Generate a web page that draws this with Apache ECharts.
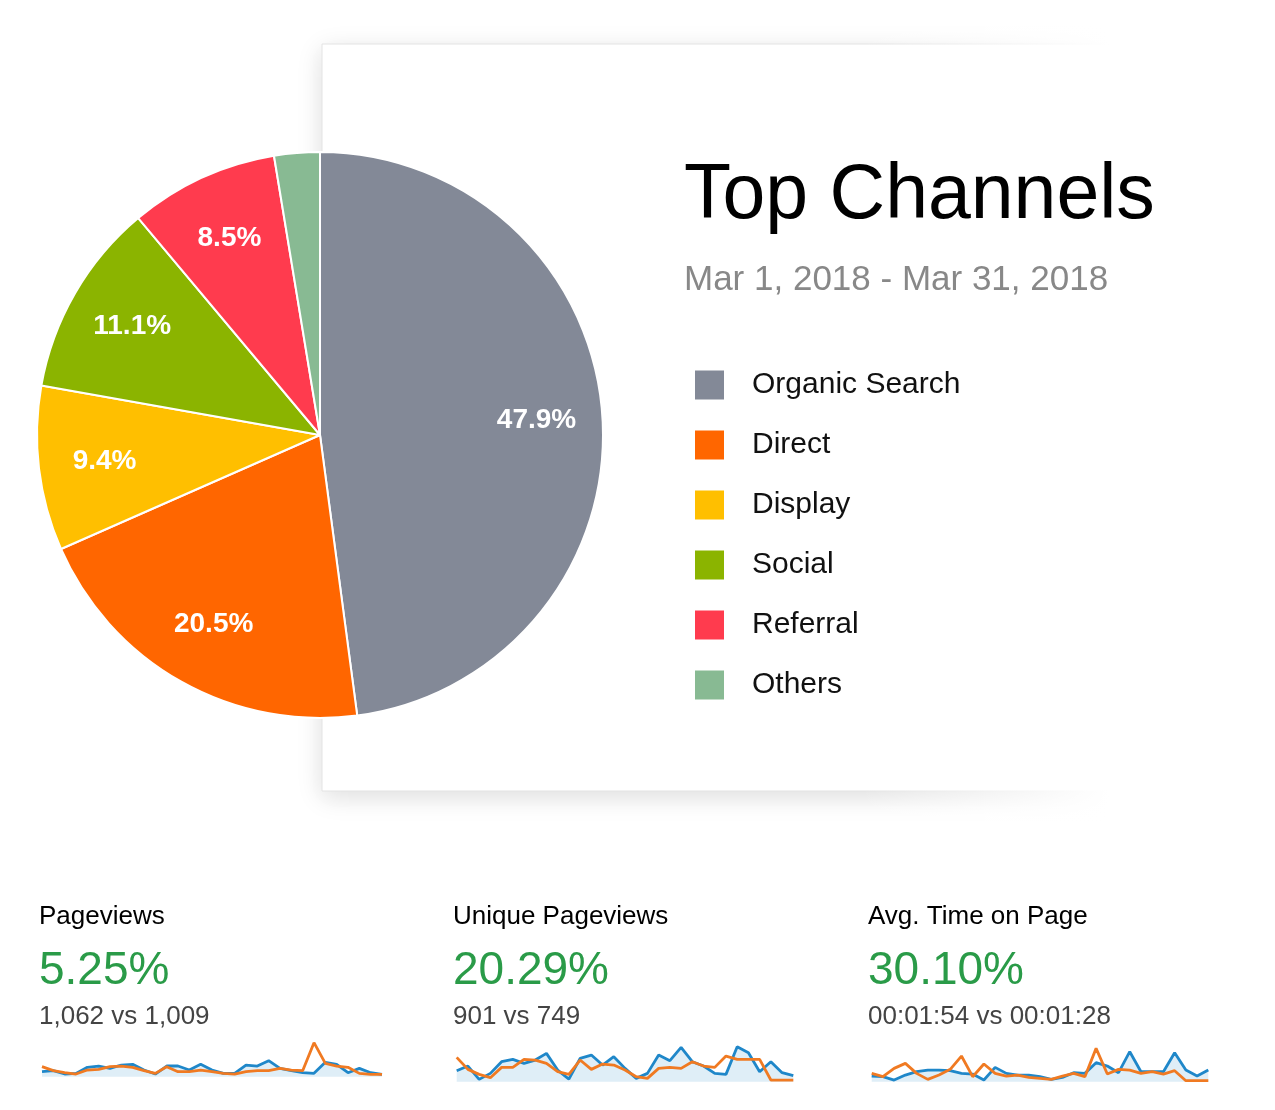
<!DOCTYPE html>
<html>
<head>
<meta charset="utf-8">
<script src="https://cdn.jsdelivr.net/npm/echarts@6/dist/echarts.min.js"></script>
<style>
html,body{margin:0;padding:0;background:#fff;}
#c{width:1275px;height:1110px;}
</style>
</head>
<body>
<div id="c"></div>
<script>
// ---- data ----
var channels = ['Organic Search', 'Direct', 'Display', 'Social', 'Referral', 'Others'];
var shares = [47.9, 20.5, 9.4, 11.1, 8.5, 2.6];
var channelColors = ['#838997', '#ff6600', '#ffbf00', '#8bb400', '#ff3b4e', '#88ba93'];

var titleText = 'Top Channels';
var dateRange = 'Mar 1, 2018 - Mar 31, 2018';

var kpiNames = ['Pageviews', 'Unique Pageviews', 'Avg. Time on Page'];
var kpiChanges = ['5.25%', '20.29%', '30.10%'];
var kpiCompare = ['1,062 vs 1,009', '901 vs 749', '00:01:54 vs 00:01:28'];

var days = [];
for (var d = 1; d <= 31; d++) days.push('Mar ' + d);

var pvCurrent = [15,18,8,10,28,32,25,35,37,20,8,32,32,20,37,20,10,10,35,32,48,25,18,12,10,43,37,12,25,12,7];
var pvPrevious = [30,18,12,8,20,22,30,32,28,18,10,30,15,15,20,15,10,8,15,18,18,25,20,18,102,40,32,28,10,7,7];
var upvCurrent = [33,47,7,25,60,67,55,65,85,35,8,70,80,50,75,40,10,25,80,63,103,60,47,25,22,105,87,30,60,27,18];
var upvPrevious = [73,37,22,12,43,43,67,65,55,30,22,65,37,53,50,35,15,10,40,43,40,60,47,43,77,67,67,67,5,5,5];
var atCurrent = [17,15,5,20,30,35,35,33,25,23,5,43,25,20,20,15,7,13,27,25,57,47,27,90,30,30,30,87,35,17,35];
var atPrevious = [25,15,40,55,25,7,20,37,77,15,53,25,17,20,13,10,7,17,25,15,100,23,37,35,25,30,23,33,3,3,3];

// ---- chart ----
var FONT = '"Liberation Sans", Arial, Helvetica, sans-serif';
var chart = echarts.init(document.getElementById('c'), null, {renderer: 'canvas'});

var pieData = channels.map(function (n, i) {
  return {name: n, value: shares[i], itemStyle: {color: channelColors[i]}};
});
var labelData = channels.map(function (n, i) {
  return {name: n, value: shares[i]};
});

var sparkSets = [[pvCurrent, pvPrevious], [upvCurrent, upvPrevious], [atCurrent, atPrevious]];
var gridDefs = [
  {left: 42, width: 340, top: 1040, height: 36.7, max: 110},
  {left: 456.7, width: 336.6, top: 1041.7, height: 40, max: 120},
  {left: 871.7, width: 336.6, top: 1041.7, height: 40, max: 120}
];
var kpiX = [39, 453, 868];

var grids = [], xAxes = [], yAxes = [], series = [];
series.push({
  type: 'pie', name: 'channels', center: [320, 435], radius: 283,
  startAngle: 90, clockwise: true, animation: false, silent: true,
  label: {show: false}, labelLine: {show: false},
  itemStyle: {borderColor: '#fff', borderWidth: 2},
  data: pieData, z: 3
});
series.push({
  type: 'pie', name: 'labels', center: [320, 435], radius: 428,
  startAngle: 90, clockwise: true, animation: false, silent: true,
  legendHoverLink: false,
  itemStyle: {color: 'rgba(0,0,0,0)', borderWidth: 0},
  label: {
    show: true, position: 'inside', color: '#fff', fontSize: 28, fontWeight: 'bold',
    fontFamily: FONT,
    formatter: function (p) { return p.name === 'Others' ? '' : p.value.toFixed(1) + '%'; }
  },
  labelLine: {show: false},
  data: labelData, z: 4
});

gridDefs.forEach(function (g, i) {
  grids.push({left: g.left, top: g.top, width: g.width, height: g.height, containLabel: false});
  xAxes.push({type: 'category', gridIndex: i, data: days, boundaryGap: false, show: false});
  yAxes.push({type: 'value', gridIndex: i, min: 0, max: g.max, show: false});
  series.push({
    type: 'line', xAxisIndex: i, yAxisIndex: i, data: sparkSets[i][0],
    symbol: 'none', animation: false, silent: true,
    lineStyle: {color: '#1f87c9', width: 2.8},
    areaStyle: {color: 'rgba(31,135,201,0.2)'}, z: 3
  });
  series.push({
    type: 'line', xAxisIndex: i, yAxisIndex: i, data: sparkSets[i][1],
    symbol: 'none', animation: false, silent: true,
    lineStyle: {color: '#f07a22', width: 2.8}, z: 4
  });
});

var graphics = [
  {type: 'rect', z: 0, shape: {x: 322, y: 44, width: 1100, height: 747},
   style: {fill: '#fff', shadowBlur: 24, shadowColor: 'rgba(0,0,0,0.13)', shadowOffsetY: 6, stroke: '#e4e4e4', lineWidth: 1}},
  {type: 'rect', z: 1, shape: {x: 860, y: 0, width: 415, height: 840},
   style: {fill: new echarts.graphic.LinearGradient(0, 0, 1, 0, [
     {offset: 0, color: 'rgba(255,255,255,0)'},
     {offset: 0.6, color: 'rgba(255,255,255,1)'},
     {offset: 1, color: 'rgba(255,255,255,1)'}])}},
  {type: 'rect', z: 1, shape: {x: 323, y: 45, width: 1000, height: 745}, style: {fill: '#fff'}},
  {type: 'text', z: 100, left: 684, top: 158,
   style: {text: titleText, fontSize: 77, fontFamily: FONT, fill: '#000', verticalAlign: 'top'}},
  {type: 'text', z: 100, left: 684, top: 263,
   style: {text: dateRange, fontSize: 35, fontFamily: FONT, fill: '#888', verticalAlign: 'top'}}
];
kpiNames.forEach(function (n, i) {
  graphics.push({type: 'text', z: 100, left: kpiX[i], top: 904,
    style: {text: n, fontSize: 26, fontFamily: FONT, fill: '#000'}});
  graphics.push({type: 'text', z: 100, left: kpiX[i], top: 948,
    style: {text: kpiChanges[i], fontSize: 46, fontFamily: FONT, fill: '#2a9b48'}});
  graphics.push({type: 'text', z: 100, left: kpiX[i], top: 1004,
    style: {text: kpiCompare[i], fontSize: 26, fontFamily: FONT, fill: '#444'}});
});

chart.setOption({
  backgroundColor: '#fff',
  animation: false,
  legend: {
    orient: 'vertical', left: 695, top: 370, padding: 0, data: channels,
    itemWidth: 29, itemHeight: 29, itemGap: 30, icon: 'rect',
    selectedMode: false,
    itemStyle: {borderWidth: 0},
    textStyle: {fontSize: 30, fontFamily: FONT, color: '#111', padding: [0, 0, 0, 23]}
  },
  grid: grids, xAxis: xAxes, yAxis: yAxes,
  graphic: {elements: graphics},
  series: series
});
</script>
</body>
</html>
